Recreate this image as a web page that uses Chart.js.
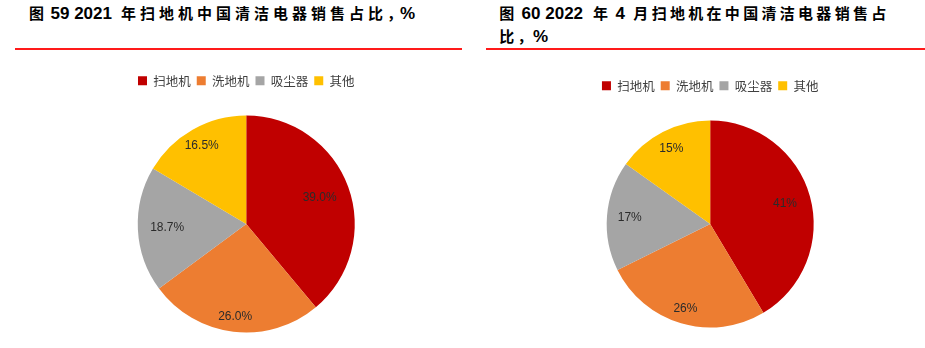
<!DOCTYPE html>
<html>
<head>
<meta charset="utf-8">
<script src="https://cdn.jsdelivr.net/npm/chart.js@4.4.1/dist/chart.umd.min.js"></script>
<style>
  html, body { margin: 0; padding: 0; background: #fff; overflow: hidden; }
  body { width: 925px; height: 348px; position: relative; }
  .title { position: absolute; font: bold 15px "Noto Sans CJK SC", sans-serif; color: #000; line-height: 23.4px; white-space: nowrap; }
  .num { font: bold 17px "Liberation Sans", Arial, sans-serif; letter-spacing: 0; }
  .rule { position: absolute; height: 1.5px; background: #ff1a1a; top: 48px; }
  .box { position: absolute; top: 60px; }
</style>
</head>
<body>
<div class="title" style="left:29px;top:1px;letter-spacing:4px">图<span class="num" style="margin-left:2.5px;margin-right:9px">59 2021</span>年扫地机中国清洁电器销售占比，<span class="num" style="margin-left:-6px">%</span></div>
<div class="rule" style="left:15px;width:447px"></div>
<div class="title" style="left:499.3px;top:0.5px;letter-spacing:3.3px">图<span class="num" style="margin-left:4px;margin-right:10px">60 2022</span>年<span class="num" style="margin-left:4px;margin-right:8.5px">4</span>月扫地机在中国清洁电器销售占<br>比，<span class="num" style="margin-left:-3px">%</span></div>
<div class="rule" style="left:486px;width:439px"></div>

<div class="box" style="left:0px"><canvas id="pie2021" width="460" height="288"></canvas></div>
<div class="box" style="left:462px"><canvas id="pie2022" width="463" height="288"></canvas></div>

<script>
const categories = ['扫地机', '洗地机', '吸尘器', '其他'];
const share2021 = [39.0, 26.0, 18.7, 16.5];
const share2022 = [41, 26, 17, 15];

const colors = ['#C00000', '#ED7D31', '#A5A5A5', '#FFC000'];

// push the pie down a bit below the legend
const legendGap = {
  id: 'legendGap',
  beforeInit(chart) {
    const fit = chart.legend.fit;
    chart.legend.fit = function () {
      fit.bind(chart.legend)();
      this.height += 18.5;
    };
  }
};

// percentage text inside each slice, along the slice's middle angle
const sliceLabels = {
  id: 'sliceLabels',
  afterDatasetsDraw(chart, args, opts) {
    const ctx = chart.ctx;
    const meta = chart.getDatasetMeta(0);
    const values = chart.data.datasets[0].data;
    ctx.save();
    ctx.font = '12px "Liberation Sans", Arial, sans-serif';
    ctx.fillStyle = '#2b2b2b';
    ctx.textAlign = 'center';
    ctx.textBaseline = 'middle';
    meta.data.forEach((arc, i) => {
      const p = arc.getProps(['x', 'y', 'startAngle', 'endAngle', 'outerRadius']);
      const mid = (p.startAngle + p.endAngle) / 2;
      const r = p.outerRadius * opts.radii[i];
      ctx.fillText(values[i].toFixed(opts.digits) + '%', p.x + Math.cos(mid) * r, p.y + Math.sin(mid) * r);
    });
    ctx.restore();
  }
};

function makePie(id, values, radius, padding, digits, radii) {
  return new Chart(document.getElementById(id), {
    type: 'pie',
    data: {
      labels: categories,
      datasets: [{
        data: values,
        backgroundColor: colors,
        borderWidth: 0,
        radius: radius
      }]
    },
    options: {
      responsive: false,
      animation: false,
      layout: { padding: padding },
      plugins: {
        legend: {
          position: 'top',
          labels: {
            boxWidth: 9,
            boxHeight: 9,
            padding: 6,
            color: '#404040',
            font: { family: '"Noto Sans CJK SC", sans-serif', size: 12.5 }
          }
        },
        tooltip: { enabled: false },
        sliceLabels: { digits: digits, radii: radii }
      }
    },
    plugins: [legendGap, sliceLabels]
  });
}

makePie('pie2021', share2021, 108.5,
  { top: 8.5, bottom: 15.5, left: 96, right: 63.5 }, 1, [0.72, 0.86, 0.73, 0.83]);
makePie('pie2022', share2022, 103.5,
  { top: 13.5, bottom: 20.5, left: 97.7, right: 64.3 }, 0, [0.75, 0.85, 0.78, 0.82]);
</script>
</body>
</html>
